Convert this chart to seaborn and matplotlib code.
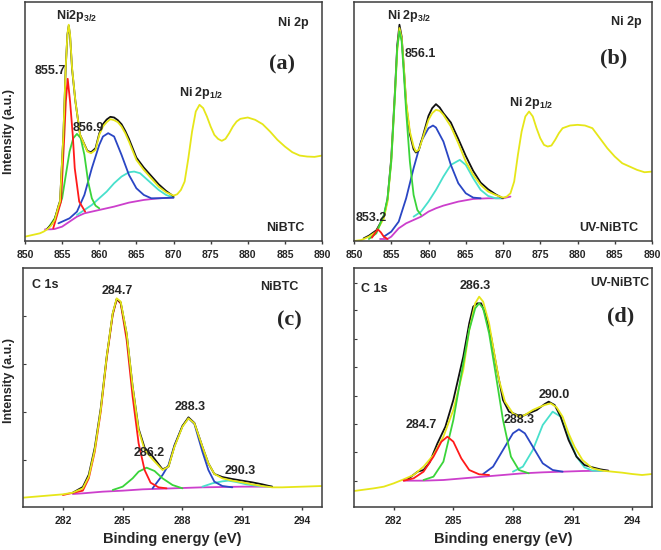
import numpy as np
import pandas as pd
import matplotlib
matplotlib.use("Agg")
import matplotlib.pyplot as plt
import seaborn as sns

# ---- panel (a): Ni 2p, NiBTC ----
a_raw_x = [850, 851, 852, 852.5, 853, 853.5, 854, 854.5, 854.72, 855.17, 855.48, 855.71, 855.89,
           856.07, 856.34, 856.79, 857.42, 858.4, 858.9, 859.5, 860, 860.5, 861, 861.5, 862, 862.5,
           863, 863.5, 864, 865, 866, 867, 868, 869, 870, 870.5, 871, 871.5, 872, 872.5, 873, 873.5,
           874, 874.5, 875, 875.5, 876, 876.5, 877, 877.5, 878, 878.5, 879, 880, 881, 882, 883, 884,
           885, 886, 887, 888, 889, 890]
a_raw_y = [13, 18, 23, 28, 35, 46, 63, 103, 118, 318, 518, 618, 648,
           618, 518, 418, 318, 268, 263, 273, 318, 343, 356, 365, 362, 356,
           343, 323, 298, 243, 213, 188, 163, 146, 136, 140, 153, 178, 248, 328, 388, 408,
           398, 373, 343, 318, 306, 300, 306, 323, 343, 358, 366, 370, 363, 350, 328, 303,
           283, 266, 256, 253, 252, 256]
a_exp_x = [853, 853.5, 854, 854.5, 854.72, 855.17, 855.48, 855.71, 855.89, 856.07, 856.34, 856.79,
           857.42, 858.4, 858.9, 859.5, 860, 860.5, 861, 861.5, 862, 862.5, 863, 863.5, 864, 865,
           866, 867, 868, 869, 870]
a_exp_y = [37, 48, 65, 105, 120, 318, 518, 618, 645, 615, 515, 418,
           318, 270, 266, 278, 322, 350, 364, 372, 370, 362, 350, 330, 306, 250,
           220, 195, 170, 150, 134]
a_bg_x = [852.7, 853.5, 854, 855, 856, 857, 858, 860, 862, 864, 866, 868, 870]
a_bg_y = [35, 35, 36, 43, 58, 73, 83, 93, 103, 115, 123, 128, 130]
a_p1_x = [853.8, 854.85, 855.3, 855.5, 855.75, 856.07, 856.43, 856.7, 857.3, 858.1]
a_p1_y = [38, 118, 318, 418, 486, 418, 318, 218, 118, 88]
a_p2_x = [853.1, 854, 855, 855.5, 856, 856.5, 857, 857.5, 858, 858.5, 859, 859.5, 860]
a_p2_y = [38, 68, 128, 198, 268, 308, 321, 308, 258, 178, 128, 106, 98]
a_p3_x = [854.5, 856, 857, 858, 859, 860, 860.5, 861.2, 862, 863, 864, 865, 866, 867, 868, 870]
a_p3_y = [53, 68, 88, 138, 218, 288, 313, 323, 313, 258, 198, 158, 138, 128, 128, 130]
a_p4_x = [857, 859, 860, 861, 862, 863, 864, 864.7, 865.5, 866, 867, 868, 869, 870]
a_p4_y = [78, 108, 128, 148, 173, 193, 206, 208, 203, 193, 173, 153, 138, 130]

# ---- panel (b): Ni 2p, UV-NiBTC ----
b_raw_x = [850, 851, 852, 853, 854, 854.5, 855, 855.5, 855.8, 856.1, 856.4, 856.7, 857, 857.5,
           858, 858.3, 858.7, 859, 859.5, 860, 860.5, 861, 861.5, 862, 863, 864, 865, 866, 867,
           868, 869, 870, 870.5, 871, 871.5, 872, 872.5, 873, 873.5, 874, 874.5, 875, 875.5, 876,
           876.5, 877, 877.5, 878, 879, 880, 881, 882, 883, 884, 885, 886, 887, 888, 889, 890]
b_raw_y = [0, 3, 13, 28, 68, 118, 238, 438, 568, 638, 608, 518, 418, 328,
           283, 268, 273, 293, 328, 363, 383, 393, 390, 378, 343, 293, 238, 198, 168,
           148, 138, 130, 133, 143, 178, 258, 328, 373, 388, 373, 338, 308, 288, 283,
           286, 303, 323, 338, 346, 348, 346, 338, 308, 278, 253, 233, 223, 213, 206, 208]
b_exp_x = [851.3, 852, 853, 854, 854.5, 855, 855.5, 855.8, 856.1, 856.4, 856.7, 857, 857.5, 858,
           858.3, 858.7, 859, 859.5, 860, 860.5, 861, 861.5, 862, 863, 863.5, 864, 865, 866, 867,
           868, 869, 870]
b_exp_y = [8, 16, 32, 72, 125, 248, 450, 585, 648, 612, 515, 410, 320, 275,
           265, 272, 295, 335, 375, 398, 410, 400, 383, 355, 330, 306, 255, 210, 175,
           155, 140, 128]
b_bg_x = [853.5, 854.5, 855, 856, 857, 858, 859, 860, 861, 862, 864, 866, 868, 870, 871]
b_bg_y = [6, 6, 13, 38, 53, 63, 73, 88, 98, 106, 118, 126, 128, 128, 133]
b_p1_x = [852.4, 852.8, 853.2, 853.6, 854, 854.5]
b_p1_y = [10, 23, 35, 26, 13, 6]
b_p2_x = [852, 853, 854, 854.5, 855, 855.5, 855.8, 856.1, 856.4, 856.7, 857, 857.5, 858, 858.5, 859]
b_p2_y = [6, 23, 78, 128, 238, 438, 578, 628, 598, 498, 388, 238, 138, 93, 78]
b_p3_x = [854, 855, 856, 857, 858, 859, 860, 860.6, 861, 862, 863, 864, 865, 866, 867]
b_p3_y = [13, 28, 58, 128, 218, 298, 338, 346, 340, 298, 228, 173, 143, 130, 128]
b_p4_x = [858, 859, 860, 861, 862, 863, 864.2, 865, 866, 867, 868, 869, 870]
b_p4_y = [73, 88, 118, 153, 193, 228, 243, 228, 188, 153, 135, 128, 128]

# ---- panel (c): C 1s, NiBTC ----
c_raw_x = [280, 281, 282, 282.5, 283, 283.3, 283.6, 283.9, 284.2, 284.5, 284.7, 284.9, 285.2,
           285.5, 285.8, 286.1, 286.5, 287, 287.3, 287.6, 288, 288.3, 288.6, 289, 289.3, 289.6,
           290, 290.5, 291, 291.5, 292, 292.5, 293, 294, 295]
c_raw_y = [28, 33, 38, 43, 56, 91, 171, 291, 451, 581, 626, 616, 521,
           361, 231, 171, 143, 111, 121, 181, 241, 266, 251, 181, 131, 99,
           86, 79, 74, 68, 63, 59, 59, 61, 63]
c_exp_x = [282.5, 283, 283.3, 283.6, 283.9, 284.2, 284.5, 284.7, 284.9, 285.2, 285.5, 285.8,
           286.1, 286.5, 287, 287.3, 287.6, 288, 288.3, 288.6, 289, 289.3, 289.6, 290, 290.5,
           291, 291.5, 292, 292.5]
c_exp_y = [43, 60, 97, 178, 296, 452, 580, 624, 614, 520, 362, 235,
           178, 152, 113, 121, 183, 243, 269, 252, 181, 131, 99, 90, 84,
           79, 74, 68, 61]
c_bg_x = [282.5, 283, 284, 285, 286, 287, 288, 289, 290, 291, 292, 292.5]
c_bg_y = [39, 41, 46, 49, 53, 55, 57, 59, 60, 61, 61, 61]
c_p1_x = [282, 283, 283.3, 283.6, 283.9, 284.2, 284.5, 284.7, 284.9, 285.2, 285.5, 285.8,
          286.1, 286.4, 286.8, 287.2]
c_p1_y = [36, 49, 86, 166, 286, 446, 576, 623, 611, 501, 331, 191, 111, 73, 59, 56]
c_p2_x = [284.5, 285, 285.5, 285.8, 286.2, 286.6, 287, 287.5, 288]
c_p2_y = [51, 61, 86, 106, 118, 108, 86, 66, 56]
c_p3_x = [286.5, 287, 287.3, 287.6, 288, 288.3, 288.6, 289, 289.3, 289.6, 290, 290.5]
c_p3_y = [56, 96, 126, 186, 243, 266, 249, 166, 111, 76, 63, 59]
c_p4_x = [289, 289.5, 290, 290.3, 290.7, 291.2, 291.8, 292.5]
c_p4_y = [61, 71, 77, 79, 75, 68, 63, 61]

# ---- panel (d): C 1s, UV-NiBTC ----
d_raw_x = [280, 281, 281.5, 282, 282.5, 283, 283.5, 284, 284.5, 285, 285.5, 285.8, 286.1,
           286.3, 286.5, 286.8, 287, 287.3, 287.6, 288, 288.3, 288.6, 289, 289.3, 289.6, 289.9,
           290.2, 290.5, 290.8, 291.1, 291.5, 292, 292.5, 293, 293.5, 294, 294.5, 295]
d_raw_y = [48, 56, 61, 71, 83, 96, 121, 156, 211, 291, 411, 531, 611,
           631, 616, 551, 481, 381, 316, 281, 271, 276, 291, 299, 306, 311,
           299, 271, 221, 181, 141, 116, 109, 106, 103, 99, 96, 99]
d_exp_x = [282.7, 283.2, 283.5, 283.8, 284.2, 284.6, 285, 285.5, 285.8, 286, 286.2, 286.4,
           286.6, 286.9, 287.2, 287.5, 287.8, 288.1, 288.4, 288.8, 289.2, 289.6, 289.8, 290.1,
           290.4, 290.8, 291.2, 291.6, 292, 292.4, 292.8]
d_exp_y = [83, 106, 111, 133, 191, 241, 321, 451, 551, 601, 611, 611,
           581, 511, 411, 321, 286, 279, 271, 281, 291, 309, 316, 306,
           271, 201, 151, 126, 119, 113, 109]
d_bg_x = [282.5, 283.5, 284.5, 285.5, 286.5, 287.5, 288.5, 289.5, 290.5, 291.5, 292.8]
d_bg_y = [79, 79, 81, 86, 91, 96, 101, 104, 106, 108, 109]
d_p1_x = [282.5, 283, 283.5, 284, 284.4, 284.7, 285, 285.4, 285.8, 286.3, 286.8]
d_p1_y = [79, 86, 106, 151, 196, 211, 196, 146, 111, 98, 96]
d_p2_x = [283.5, 284, 284.5, 285, 285.5, 285.8, 286.1, 286.3, 286.5, 286.8, 287.1, 287.5,
          287.9, 288.3, 288.8]
d_p2_y = [81, 91, 136, 261, 431, 531, 596, 611, 596, 521, 411, 261, 151, 111, 101]
d_p3_x = [286.5, 287, 287.5, 288, 288.3, 288.6, 289, 289.5, 290, 290.5]
d_p3_y = [99, 121, 171, 221, 233, 221, 181, 131, 111, 106]
d_p4_x = [288, 288.5, 289, 289.5, 290, 290.4, 290.8, 291.2, 291.6, 292, 292.5]
d_p4_y = [106, 121, 171, 246, 286, 271, 211, 151, 119, 109, 108]

ni_ticks = [850, 855, 860, 865, 870, 875, 880, 885, 890]
c_ticks = [282, 285, 288, 291, 294]

YELLOW = "#e6e619"
COLORS = {"bg": "#cc3fcc", "p1": "#ff1a1a", "p2": "#3ad43a", "p3": "#2a46c4",
          "p4": "#48e0cc", "exp": "#111111", "raw": YELLOW}

sns.set_style("ticks")
plt.rcParams["font.family"] = ["Liberation Sans", "DejaVu Sans"]
plt.rcParams["font.weight"] = "bold"
plt.rcParams["mathtext.fontset"] = "custom"
plt.rcParams["mathtext.rm"] = "Liberation Sans:bold"
plt.rcParams["mathtext.it"] = "Liberation Sans:bold"
plt.rcParams["mathtext.bf"] = "Liberation Sans:bold"
plt.rcParams["mathtext.default"] = "rm"

W, H = 661, 550
fig = plt.figure(figsize=(W / 100, H / 100), dpi=100)


def add_ax(l, t, r, b):
    return fig.add_axes([l / W, 1 - b / H, (r - l) / W, (b - t) / H])


def draw(ax, curves):
    for key, xs, ys in curves:
        df = pd.DataFrame({"x": xs, "y": ys})
        sns.lineplot(data=df, x="x", y="y", ax=ax, color=COLORS[key],
                     lw=1.3, sort=False, estimator=None)


def style(ax, xlim, ylim, ticks):
    ax.set_xlim(*xlim)
    ax.set_ylim(*ylim)
    ax.set_xticks(ticks)
    ax.set_xlabel("")
    ax.set_ylabel("")
    for s in ax.spines.values():
        s.set_color("#3c3c3c")
        s.set_linewidth(1.1)
    ax.tick_params(axis="x", direction="out", length=2.5, width=1, pad=4,
                   labelsize=7.5, color="#3c3c3c")
    for lab in ax.get_xticklabels():
        lab.set_fontweight("bold")


panels = {
    "a": (add_ax(25, 2, 322, 241), [("bg", a_bg_x, a_bg_y), ("p4", a_p4_x, a_p4_y),
          ("p3", a_p3_x, a_p3_y), ("p2", a_p2_x, a_p2_y), ("p1", a_p1_x, a_p1_y),
          ("exp", a_exp_x, a_exp_y), ("raw", a_raw_x, a_raw_y)]),
    "b": (add_ax(354, 2, 652, 241), [("bg", b_bg_x, b_bg_y), ("p4", b_p4_x, b_p4_y),
          ("p3", b_p3_x, b_p3_y), ("exp", b_exp_x, b_exp_y), ("raw", b_raw_x, b_raw_y),
          ("p2", b_p2_x, b_p2_y), ("p1", b_p1_x, b_p1_y)]),
    "c": (add_ax(23, 268, 322, 507), [("bg", c_bg_x, c_bg_y), ("p4", c_p4_x, c_p4_y),
          ("p3", c_p3_x, c_p3_y), ("p2", c_p2_x, c_p2_y), ("p1", c_p1_x, c_p1_y),
          ("exp", c_exp_x, c_exp_y), ("raw", c_raw_x, c_raw_y)]),
    "d": (add_ax(354, 268, 652, 507), [("bg", d_bg_x, d_bg_y), ("p4", d_p4_x, d_p4_y),
          ("p3", d_p3_x, d_p3_y), ("exp", d_exp_x, d_exp_y), ("raw", d_raw_x, d_raw_y),
          ("p2", d_p2_x, d_p2_y), ("p1", d_p1_x, d_p1_y)]),
}

for key, (ax, curves) in panels.items():
    draw(ax, curves)

ax_a, ax_b, ax_c, ax_d = (panels[k][0] for k in "abcd")
style(ax_a, (850, 890), (0, 716), ni_ticks)
style(ax_b, (850, 890), (0, 716), ni_ticks)
style(ax_c, (280, 295), (0, 717), c_ticks)
style(ax_d, (280, 295), (0, 717), c_ticks)

for ax in (ax_a, ax_b):
    ax.set_yticks([])
ax_c.set_yticks([140, 284, 428, 572])
ax_d.set_yticks([79, 164, 249, 334, 419, 504, 591, 671])
for ax in (ax_c, ax_d):
    ax.tick_params(axis="y", direction="in", length=2, width=0.8, labelleft=False,
                   color="#3c3c3c")

fs = 9
kw = dict(fontsize=fs, fontweight="bold", ha="center", va="center")
pkw = dict(fontsize=16, fontweight="bold", ha="center", va="center",
           family=["Liberation Serif", "DejaVu Serif"])

# (a)
ax_a.text(856.9, 673, r"Ni2p$_{3/2}$", **kw)
ax_a.text(886.2, 653, "Ni 2p", **kw)
ax_a.text(884.6, 528, "(a)", **pkw)
ax_a.text(853.4, 508, "855.7", **kw)
ax_a.text(858.5, 340, "856.9", **kw)
ax_a.text(873.8, 443, r"Ni 2p$_{1/2}$", **kw)
ax_a.text(885.0, 38, "NiBTC", **kw)
ax_a.set_ylabel("Intensity (a.u.)", fontsize=fs, fontweight="bold")
ax_a.yaxis.set_label_coords(-0.034, 0.46)

# (b)
ax_b.text(857.4, 673, r"Ni 2p$_{3/2}$", **kw)
ax_b.text(858.85, 560, "856.1", **kw)
ax_b.text(886.6, 656, "Ni 2p", **kw)
ax_b.text(884.8, 548, "(b)", **pkw)
ax_b.text(873.8, 413, r"Ni 2p$_{1/2}$", **kw)
ax_b.text(852.25, 68, "853.2", **kw)
ax_b.text(884.2, 38, "UV-NiBTC", **kw)

# (c)
ax_c.text(280.45, 666, "C 1s", fontsize=fs, fontweight="bold", ha="left", va="center")
ax_c.text(284.72, 649, "284.7", **kw)
ax_c.text(292.85, 661, "NiBTC", **kw)
ax_c.text(293.36, 559, "(c)", **pkw)
ax_c.text(288.38, 301, "288.3", **kw)
ax_c.text(286.35, 163, "286.2", **kw)
ax_c.text(290.9, 109, "290.3", **kw)
ax_c.set_ylabel("Intensity (a.u.)", fontsize=fs, fontweight="bold")
ax_c.yaxis.set_label_coords(-0.027, 0.53)

# (d)
ax_d.text(280.36, 654, "C 1s", fontsize=fs, fontweight="bold", ha="left", va="center")
ax_d.text(286.1, 663, "286.3", **kw)
ax_d.text(293.36, 673, "UV-NiBTC", **kw)
ax_d.text(293.44, 571, "(d)", **pkw)
ax_d.text(283.4, 246, "284.7", **kw)
ax_d.text(288.3, 261, "288.3", **kw)
ax_d.text(290.07, 336, "290.0", **kw)

for ax in (ax_c, ax_d):
    ax.set_xlabel("Binding energy (eV)", fontsize=10.5, fontweight="bold")
    ax.xaxis.set_label_coords(0.5, -0.105)

fig.savefig("out.png", dpi=100)
